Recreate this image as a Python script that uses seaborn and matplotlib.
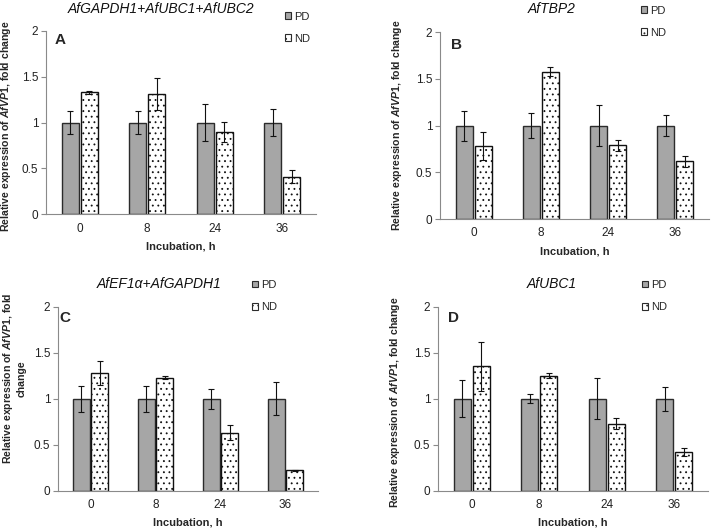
import matplotlib
matplotlib.use("Agg")
import matplotlib.pyplot as plt
import seaborn as sns
import pandas as pd
import numpy as np
from matplotlib.patches import Patch

sns.set_style("white")
plt.rcParams['font.family'] = ['Liberation Sans', 'DejaVu Sans']
plt.rcParams['mathtext.fontset'] = 'custom'
plt.rcParams['mathtext.it'] = 'Liberation Sans:italic:bold'
plt.rcParams['mathtext.rm'] = 'Liberation Sans:bold'
plt.rcParams['hatch.linewidth'] = 0.6

# ---------------- data ----------------
times = ["0", "8", "24", "36"]
groups = ["PD", "ND"]
panel_letters = ["A", "B", "C", "D"]
panel_titles = ["AfGAPDH1+AfUBC1+AfUBC2", "AfTBP2", "AfEF1α+AfGAPDH1", "AfUBC1"]

pd_A = [1, 1, 1, 1]
pd_A_err = [0.13, 0.12, 0.20, 0.145]
nd_A = [1.33, 1.31, 0.90, 0.41]
nd_A_err = [0.015, 0.17, 0.11, 0.07]

pd_B = [1, 1, 1, 1]
pd_B_err = [0.16, 0.135, 0.22, 0.11]
nd_B = [0.78, 1.58, 0.79, 0.62]
nd_B_err = [0.15, 0.05, 0.06, 0.06]

pd_C = [1, 1, 1, 1]
pd_C_err = [0.14, 0.14, 0.11, 0.18]
nd_C = [1.28, 1.23, 0.63, 0.22]
nd_C_err = [0.13, 0.02, 0.08, 0.01]

pd_D = [1, 1, 1, 1]
pd_D_err = [0.20, 0.05, 0.22, 0.13]
nd_D = [1.35, 1.25, 0.73, 0.42]
nd_D_err = [0.27, 0.03, 0.06, 0.04]

yticks = [0, 0.5, 1, 1.5, 2]
ytick_labels = ["0", "0.5", "1", "1.5", "2"]
xlabel = "Incubation, h"
ylabel = r"Relative expression of $\it{AfVP1}$, fold change"
ylabel_C = "Relative expression of $\\it{AfVP1}$, fold\nchange"

panels = [
    (pd_A, pd_A_err, nd_A, nd_A_err),
    (pd_B, pd_B_err, nd_B, nd_B_err),
    (pd_C, pd_C_err, nd_C, nd_C_err),
    (pd_D, pd_D_err, nd_D, nd_D_err),
]

W, H = 711, 529
fig = plt.figure(figsize=(W / 100, H / 100), dpi=100)

# axes boxes in pixels: left, right, top, bottom
boxes = [
    (46, 316, 30.7, 214.3),
    (440, 709, 32.3, 219),
    (58, 318, 306.7, 490.7),
    (438, 708, 306.7, 490.7),
]
title_pos = [(161, 9), (552, 9), (159, 284), (552, 284)]
letter_pos = [(55, 40), (451, 45), (59, 317.5), (448, 318)]
legend_pos = [(285, 11.5), (641, 5.5), (252, 280), (642, 280)]
ylabel_x = [13, 404, 27, 402]       # right edge of the rotated label, px
ylabel_y = [0.478, 0.50, 0.61, 0.48]  # vertical centre, axes fraction

pd_color = "#a6a6a6"
edge = "#2b2b2b"
spine_c = "#8a8a8a"
dot_hatch = "..."

for i, (pv, pe, nv, ne) in enumerate(panels):
    l, r, t, b = boxes[i]
    ax = fig.add_axes([l / W, 1 - b / H, (r - l) / W, (b - t) / H])
    df = pd.DataFrame({
        "time": times * 2,
        "group": [groups[0]] * 4 + [groups[1]] * 4,
        "value": list(pv) + list(nv),
    })
    sns.barplot(data=df, x="time", y="value", hue="group", order=times,
                hue_order=groups, palette={"PD": pd_color, "ND": "white"},
                saturation=1, width=0.56, gap=0.1, errorbar=None,
                edgecolor=edge, linewidth=1.0, legend=False, ax=ax)
    errs = [pe, ne]
    bar_conts = list(ax.containers)
    for ci, cont in enumerate(bar_conts):
        xs, ys = [], []
        for p in cont.patches:
            xs.append(p.get_x() + p.get_width() / 2)
            ys.append(p.get_height())
            if ci == 1:
                p.set_hatch(dot_hatch)
                p.set_edgecolor("#111111")
        ax.errorbar(xs, ys, yerr=errs[ci], fmt="none", ecolor="#111111",
                    elinewidth=0.8, capsize=2.5, capthick=0.8, zorder=5)

    ax.set_ylim(0, 2)
    ax.set_xlim(-0.5, 3.5)
    ax.set_yticks(yticks)
    ax.set_yticklabels(ytick_labels, fontsize=8.5, color="#222222")
    ax.set_xticks(range(4))
    ax.set_xticklabels(times, fontsize=8.5, color="#222222")
    ax.set_xticks([0.5, 1.5, 2.5, 3.5], minor=True)
    ax.tick_params(axis="x", which="major", length=0, pad=6)
    ax.tick_params(axis="x", which="minor", length=3.5, width=0.8, color=spine_c, direction="out")
    ax.tick_params(axis="y", which="major", length=3.5, width=0.8, color=spine_c,
                   direction="out", left=True, pad=2)
    for s in ["top", "right"]:
        ax.spines[s].set_visible(False)
    for s in ["left", "bottom"]:
        ax.spines[s].set_color(spine_c)
        ax.spines[s].set_linewidth(0.8)

    ax.set_xlabel(xlabel, fontsize=8, fontweight="bold", labelpad=5)
    ax.set_ylabel(ylabel_C if i == 2 else ylabel, fontsize=7.6, fontweight="bold",
                  linespacing=1.25)
    ax.yaxis.set_label_coords((ylabel_x[i] - l) / (r - l), ylabel_y[i])

    tx, ty = title_pos[i]
    fig.text(tx / W, 1 - ty / H, panel_titles[i], fontsize=10, fontstyle="italic",
             ha="center", va="center", color="#111111")
    lx, ly = letter_pos[i]
    fig.text(lx / W, 1 - ly / H, panel_letters[i], fontsize=11, fontweight="bold",
             ha="left", va="center")

    handles = [Patch(facecolor=pd_color, edgecolor=edge, linewidth=0.8, label="PD"),
               Patch(facecolor="white", edgecolor=edge, linewidth=0.8, hatch=dot_hatch, label="ND")]
    gx, gy = legend_pos[i]
    fig.legend(handles=handles, loc="upper left", bbox_to_anchor=(gx / W, 1 - gy / H),
               frameon=False, fontsize=8, handlelength=0.55, handleheight=0.55,
               handletextpad=0.3, labelspacing=1.1, borderpad=0, borderaxespad=0)

fig.savefig("out.png", dpi=100)
